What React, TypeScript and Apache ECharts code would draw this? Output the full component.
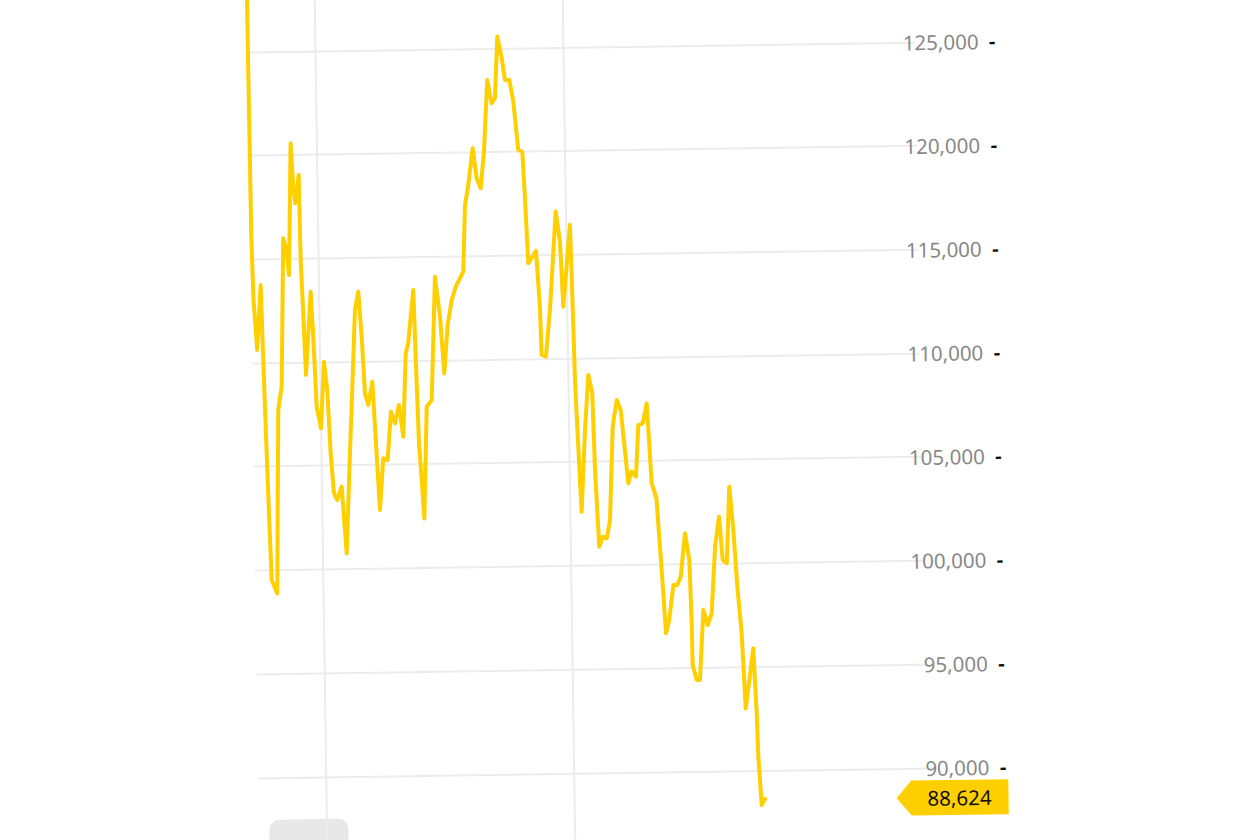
import React, { useEffect, useRef } from 'react';
import * as echarts from 'echarts';

// time (days from the left edge of the visible window) and price
const times = [
  0, 0.13, 0.29, 0.66, 1.21, 1.4, 1.65, 2.04, 2.72, 3.18, 3.65, 4.12, 4.51, 4.77, 5.22, 5.47, 5.69,
  6.17, 6.26, 6.48, 6.71, 7.45, 7.69, 7.99, 8.49, 8.98, 9.34, 9.65, 9.99, 10.39, 10.96, 11.47, 12.06,
  12.65, 12.95, 13.4, 13.74, 14.05, 14.44, 14.99, 15.71, 16.21, 16.76, 17.26, 17.75, 18.28, 18.76,
  19.21, 19.55, 20.28, 20.53, 20.71, 20.98, 21.24, 21.74, 22.38, 23.01, 23.57, 24.0, 24.51, 25.06,
  25.59, 26.56, 26.9, 27.35, 27.96, 28.41, 28.89, 29.37, 29.91, 30.42, 30.84, 31.25, 31.76, 32.13,
  32.67, 33.13, 33.66, 34.16, 34.41, 34.7, 35.69, 36.08, 36.2, 36.74, 37.34, 38.22, 38.7, 39.0, 39.98,
  40.21, 40.32, 40.61, 40.91, 41.48, 42.0, 42.46, 42.66, 43.05, 43.5, 44.0, 44.44, 44.95, 45.5, 45.98,
  46.8, 47.24, 47.77, 48.15, 48.71, 49.24, 49.72, 50.27, 50.81, 51.23, 51.66, 52.24, 52.74, 53.17,
  53.79, 54.28, 54.46, 54.5, 54.98, 55.39, 55.94, 56.46, 56.98, 57.52, 58.07, 58.45, 58.95, 59.41,
  59.84, 60.23, 60.69, 61.05, 61.56, 62.11, 62.42, 62.54, 62.88, 63.3,
];

const prices = [
  131000, 116180, 113050, 110630, 113760, 110140, 105660, 99530, 98880, 107720, 108850, 116000, 115430,
  114220, 120570, 118480, 117680, 119040, 114940, 112380, 109390, 113400, 111230, 107850, 106810,
  110020, 108650, 105600, 103670, 103340, 103980, 100760, 105580, 110080, 112490, 113370, 111200,
  108460, 107900, 109020, 102830, 105320, 105230, 107560, 107000, 107880, 106350, 110360, 110850,
  113410, 108910, 106010, 104250, 102390, 107770, 108090, 114040, 112110, 109370, 111700, 112900,
  113540, 114260, 117470, 118440, 120200, 118760, 118270, 120030, 123490, 122360, 122600, 125570,
  124520, 123470, 123470, 122420, 120090, 120000, 117760, 114620, 115210, 112440, 110190, 110100,
  112430, 117090, 115640, 112500, 116440, 111690, 108960, 105740, 102600, 106540, 109190, 108310,
  104600, 100900, 101380, 101300, 102180, 106680, 107960, 107480, 103940, 104500, 104250, 106740,
  106820, 107780, 103920, 103230, 99730, 96680, 97320, 99000, 99000, 99390, 101490, 100190, 97140,
  95130, 94400, 94400, 97770, 97050, 97610, 100820, 102260, 100170, 100010, 103700, 101610, 98870,
  96620, 93000, 94360, 95890, 92750, 90660, 88330, 88624,
];

const lastPrice = 88624;
const verticalGridTimes = [8.5, 39.5];
const yMin = 85000;
const yMax = 130000;
const yStep = 5000;
const xMax = 83.5;

const YELLOW = '#FFCF00';
const GRID = '#ececec';

const fmt = (v: number) => v.toLocaleString('en-US');

export default function App() {
  const ref = useRef<HTMLDivElement>(null);

  useEffect(() => {
    if (!ref.current) return;
    const chart = echarts.init(ref.current, null, { renderer: 'svg' });
    const option: any = {
      animation: false,
      backgroundColor: '#ffffff',
      grid: {
        left: 313,
        right: 399,
        top: 2.8,
        bottom: 24,
        containLabel: false,
        outerBoundsMode: 'none',
      },
      xAxis: {
        type: 'value',
        min: 0,
        max: xMax,
        show: false,
      },
      yAxis: {
        type: 'value',
        position: 'right',
        min: yMin,
        max: yMax,
        interval: yStep,
        axisLine: { show: false },
        axisTick: { show: false },
        splitLine: { show: true, lineStyle: { color: GRID, width: 2 } },
        axisLabel: {
          align: 'right',
          margin: 80,
          showMinLabel: false,
          showMaxLabel: false,
          formatter: (v: number) => `{v|${fmt(v)}}{d|  -}`,
          rich: {
            v: { color: '#888888', fontSize: 20.5, fontFamily: 'Noto Sans' },
            d: { color: '#111111', fontSize: 20, fontWeight: 'bold', fontFamily: 'Noto Sans' },
          },
        },
      },
      graphic: [
        {
          type: 'rect',
          silent: true,
          z: 0,
          shape: { x: 323.3, y: 874.5, width: 79, height: 40, r: 10 },
          style: { fill: '#e8e8e8' },
        },
      ],
      series: [
        {
          type: 'line',
          data: times.map((t, i) => [t, prices[i]]),
          showSymbol: false,
          symbol: 'none',
          z: 3,
          lineStyle: { color: YELLOW, width: 4, join: 'round', cap: 'round' },
          emphasis: { disabled: true },
          markLine: {
            silent: true,
            z: 1,
            symbol: ['none', 'none'],
            label: { show: false },
            lineStyle: { color: GRID, width: 2, type: 'solid' },
            emphasis: { disabled: true },
            data: verticalGridTimes.map((t) => ({ xAxis: t })),
          },
          markPoint: {
            silent: true,
            z: 6,
            symbol: 'path://M0,17.5L15,0L112,0L112,35L15,35Z',
            symbolSize: [112, 35],
            symbolKeepAspect: false,
            symbolOffset: [29.9, 1.4],
            itemStyle: { color: YELLOW },
            label: {
              show: true,
              position: 'inside',
              offset: [7, 0],
              formatter: () => fmt(lastPrice),
              color: '#111111',
              fontSize: 20.5,
              fontFamily: 'Noto Sans',
            },
            data: [{ coord: [83, lastPrice], value: lastPrice }],
          },
        },
      ],
    };
    chart.setOption(option);
    return () => chart.dispose();
  }, []);

  return (
    <div
      style={{
        position: 'fixed',
        left: 0,
        top: 0,
        width: 1260,
        height: 840,
        overflow: 'hidden',
        background: '#ffffff',
      }}
    >
      <div
        ref={ref}
        style={{
          position: 'absolute',
          left: -60,
          top: -60,
          width: 1380,
          height: 960,
          transform: 'rotate(-0.85deg)',
        }}
      />
    </div>
  );
}
